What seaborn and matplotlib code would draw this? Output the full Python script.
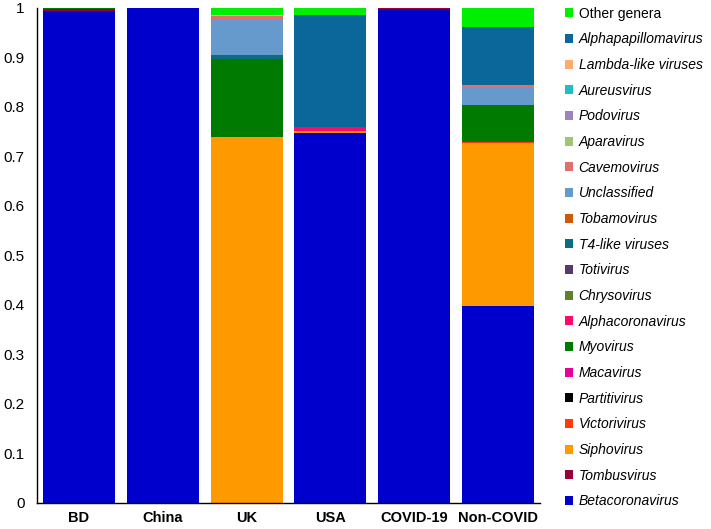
import numpy as np
import pandas as pd
import matplotlib
matplotlib.use("Agg")
import matplotlib.pyplot as plt
from matplotlib.patches import Patch
import seaborn as sns

categories = ["BD", "China", "UK", "USA", "COVID-19", "Non-COVID"]

# genera listed bottom -> top of stack
genera = ["Betacoronavirus", "Tombusvirus", "Siphovirus", "Victorivirus", "Partitivirus",
          "Macavirus", "Myovirus", "Alphacoronavirus", "Chrysovirus", "Totivirus",
          "T4-like viruses", "Tobamovirus", "Unclassified", "Cavemovirus", "Aparavirus",
          "Podovirus", "Aureusvirus", "Lambda-like viruses", "Alphapapillomavirus", "Other genera"]

betacoronavirus     = [0.992, 0.998, 0.000, 0.747, 0.996, 0.397]
tombusvirus         = [0.005, 0.000, 0.000, 0.000, 0.002, 0.000]
siphovirus          = [0.000, 0.000, 0.739, 0.003, 0.000, 0.330]
victorivirus        = [0.000, 0.000, 0.000, 0.000, 0.000, 0.001]
partitivirus        = [0.000, 0.000, 0.000, 0.000, 0.000, 0.000]
macavirus           = [0.000, 0.000, 0.000, 0.000, 0.000, 0.000]
myovirus            = [0.001, 0.000, 0.158, 0.000, 0.000, 0.073]
alphacoronavirus    = [0.000, 0.000, 0.000, 0.009, 0.000, 0.001]
chrysovirus         = [0.000, 0.000, 0.000, 0.000, 0.000, 0.000]
totivirus           = [0.000, 0.000, 0.000, 0.000, 0.001, 0.002]
t4_like             = [0.000, 0.000, 0.008, 0.000, 0.000, 0.000]
tobamovirus         = [0.000, 0.000, 0.000, 0.000, 0.000, 0.000]
unclassified        = [0.000, 0.000, 0.072, 0.000, 0.000, 0.035]
cavemovirus         = [0.000, 0.000, 0.005, 0.000, 0.000, 0.003]
aparavirus          = [0.000, 0.000, 0.000, 0.000, 0.000, 0.000]
podovirus           = [0.000, 0.000, 0.000, 0.000, 0.000, 0.001]
aureusvirus         = [0.000, 0.001, 0.000, 0.000, 0.000, 0.000]
lambda_like         = [0.000, 0.000, 0.002, 0.000, 0.000, 0.001]
alphapapillomavirus = [0.000, 0.000, 0.000, 0.225, 0.000, 0.117]
other_genera        = [0.002, 0.001, 0.016, 0.016, 0.001, 0.039]

values = [betacoronavirus, tombusvirus, siphovirus, victorivirus, partitivirus,
          macavirus, myovirus, alphacoronavirus, chrysovirus, totivirus,
          t4_like, tobamovirus, unclassified, cavemovirus, aparavirus,
          podovirus, aureusvirus, lambda_like, alphapapillomavirus, other_genera]

colors = ["#0000CC", "#99003A", "#FF9900", "#FF3B0A", "#000000",
          "#E8009A", "#007A00", "#FF0A6A", "#5E7F2E", "#553A6E",
          "#0A6E80", "#CC5A0A", "#6699CC", "#E07070", "#9CC870",
          "#9A85BE", "#22BBCC", "#FFAA70", "#0B6699", "#00EE00"]

sns.set_theme(style="white")
plt.rcParams["font.family"] = ["Liberation Sans", "DejaVu Sans"]
plt.rcParams["text.color"] = "black"
plt.rcParams["xtick.color"] = "black"
plt.rcParams["ytick.color"] = "black"
plt.rcParams["axes.labelcolor"] = "black"

fig = plt.figure(figsize=(7.11, 5.29), dpi=100)
ax = fig.add_axes([37/711, 1-503/529, (540-37)/711, (503-7.5)/529])

cum = np.cumsum(np.array(values), axis=0)
# draw from top layer down so lower layers overlay
for i in range(len(genera) - 1, -1, -1):
    df = pd.DataFrame({"cat": categories, "val": cum[i]})
    sns.barplot(data=df, x="cat", y="val", order=categories, color=colors[i],
                saturation=1, width=0.86, errorbar=None, linewidth=0, ax=ax)

ax.set_ylim(0, 1)
ax.set_xlim(-0.5, len(categories) - 0.5)
ax.set_yticks(np.arange(0, 1.01, 0.1))
ax.set_yticklabels(["0"] + [f"{v:.1f}" for v in np.arange(0.1, 0.95, 0.1)] + ["1"], fontsize=11)
ax.set_xlabel("")
ax.set_ylabel("")
for lab in ax.get_xticklabels():
    lab.set_fontweight("bold")
    lab.set_fontsize(10.5)
ax.tick_params(axis="y", length=0, pad=9, labelcolor="black")
ax.tick_params(axis="x", length=0, pad=6, labelcolor="black")
for s in ["top", "right"]:
    ax.spines[s].set_visible(False)
for s in ["left", "bottom"]:
    ax.spines[s].set_color("black")
    ax.spines[s].set_linewidth(1.0)
ax.grid(False)

handles = []
labels = []
for i in range(len(genera) - 1, -1, -1):
    handles.append(Patch(facecolor=colors[i], edgecolor="none"))
    labels.append(genera[i])
leg = fig.legend(handles, labels, loc="upper left", bbox_to_anchor=(562/711, 1 - 4/529),
                 frameon=False, fontsize=10, handlelength=0.6, handleheight=0.6,
                 handletextpad=0.4, labelspacing=0.84, borderaxespad=0, borderpad=0.2)
for t in leg.get_texts():
    t.set_color("black")
    if t.get_text() != "Other genera":
        t.set_fontstyle("italic")

fig.savefig("out.png", dpi=100)
